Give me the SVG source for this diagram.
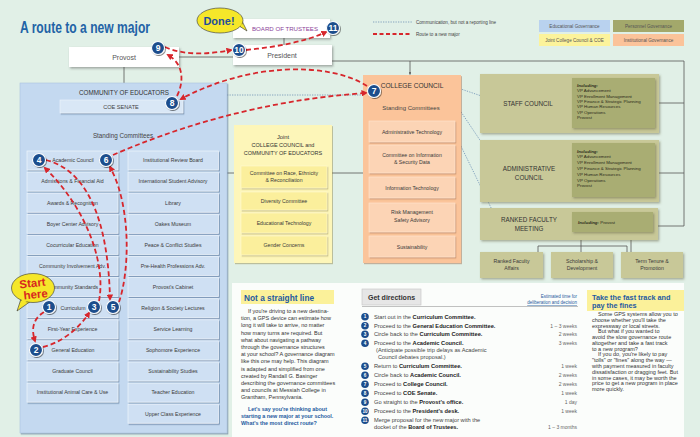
<svg xmlns="http://www.w3.org/2000/svg" width="700" height="437" viewBox="0 0 700 437">
<style>
text{font-family:"Liberation Sans",Arial,sans-serif}
.c{text-anchor:middle}
.ct{font-size:5.2px;fill:#3a3a3a;text-anchor:middle}
.cb{fill:#cfe0f3;stroke:#eef5fc;stroke-width:0.7;filter:url(#sh)}
.jb{fill:#fbef9c;stroke:#fdf8d0;stroke-width:0.6;filter:url(#shy)}
.ob{fill:#fcd4b5;stroke:#fde4d0;stroke-width:0.6;filter:url(#sho)}
.kb{fill:#c8c898;filter:url(#shk)}
.ki{fill:#a9ad73;filter:url(#shk)}
.hd{font-size:6.3px;fill:#333}
.inc{font-size:4.4px;fill:#2b2b1a}
.ln{stroke:#555;stroke-width:0.8;fill:none}
.dot{stroke:#5f84ad;stroke-width:0.7;stroke-dasharray:1.3 1.2;fill:none}
.route{stroke:#d7262c;stroke-width:1.8;stroke-dasharray:5 3;fill:none;marker-end:url(#ra)}
.bd circle{fill:#1b4d8c;stroke:#fff;stroke-width:1.1;filter:url(#shb)}
.bd text{fill:#fff;font-size:8.5px;font-weight:bold;text-anchor:middle}
.sb circle{fill:#1b4d8c}
.sb text{fill:#fff;font-size:4.6px;font-weight:bold;text-anchor:middle}
.st{font-size:5.7px;fill:#444}
.st tspan.b{font-weight:bold;fill:#222}
.tm{font-size:5px;fill:#666;text-anchor:end}
.bt{font-size:5.5px;fill:#333}
.lg{font-size:4.6px;fill:#444}
.lgb{font-size:4.6px;fill:#555;text-anchor:middle}
</style>
<defs>
<filter id="sh" x="-10%" y="-10%" width="130%" height="150%"><feDropShadow dx="1" dy="1.2" stdDeviation="0.7" flood-color="#3d5f86" flood-opacity="0.55"/></filter>
<filter id="shy" x="-10%" y="-10%" width="130%" height="150%"><feDropShadow dx="1" dy="1.2" stdDeviation="0.7" flood-color="#8a8040" flood-opacity="0.45"/></filter>
<filter id="sho" x="-10%" y="-10%" width="130%" height="150%"><feDropShadow dx="1" dy="1.2" stdDeviation="0.7" flood-color="#9a6040" flood-opacity="0.45"/></filter>
<filter id="shk" x="-10%" y="-10%" width="130%" height="150%"><feDropShadow dx="1.2" dy="1.4" stdDeviation="0.8" flood-color="#5f5f40" flood-opacity="0.5"/></filter>
<filter id="shw" x="-10%" y="-10%" width="130%" height="160%"><feDropShadow dx="1.2" dy="1.5" stdDeviation="0.9" flood-color="#444" flood-opacity="0.45"/></filter>
<filter id="shb" x="-40%" y="-40%" width="190%" height="190%"><feDropShadow dx="0.8" dy="1" stdDeviation="0.6" flood-color="#000" flood-opacity="0.5"/></filter>
<marker id="ra" viewBox="0 0 10 10" refX="7" refY="5" markerWidth="3.6" markerHeight="3.6" orient="auto" markerUnits="strokeWidth"><path d="M0,0 L10,5 L0,10 z" fill="#d7262c"/></marker>
<marker id="ba" viewBox="0 0 10 10" refX="9" refY="5" markerWidth="3" markerHeight="3" orient="auto" markerUnits="strokeWidth"><path d="M0,0 L10,5 L0,10 z" fill="#555"/></marker>
</defs>

<rect x="0" y="0" width="700" height="437" fill="#e1f0e7"/>
<rect x="232" y="283" width="452" height="154" fill="#fbfdfb"/>

<g id="title">
<text x="20" y="33" font-size="16.5" font-weight="bold" fill="#2263a6" textLength="130" lengthAdjust="spacingAndGlyphs">A route to a new major</text>
</g>

<g id="legend">
<line x1="373" y1="22" x2="412" y2="22" class="dot"/>
<text x="416" y="23.8" class="lg">Communication, but not a reporting line</text>
<line x1="373" y1="34" x2="412" y2="34" stroke="#d7262c" stroke-width="1.8" stroke-dasharray="4 2.5"/>
<text x="416" y="35.8" class="lg">Route to a new major</text>
<rect x="539" y="20" width="71" height="12" fill="#b9d2ef"/>
<text x="574.5" y="27.6" class="lgb">Educational Governance</text>
<rect x="613" y="20" width="71" height="12" fill="#a3a86b"/>
<text x="648.5" y="27.6" class="lgb" fill="#3f3f25">Personnel Governance</text>
<rect x="539" y="34" width="71" height="12" fill="#fcf39b"/>
<text x="574.5" y="41.6" class="lgb">Joint College Council &amp; COE</text>
<rect x="613" y="34" width="71" height="12" fill="#fbc39a"/>
<text x="648.5" y="41.6" class="lgb">Institutional Governance</text>
</g>

<g id="connectors">
<path class="ln" d="M124 67 V83"/>
<path class="ln" d="M179 57 H233"/>
<path class="ln" d="M284 38 V45"/>
<path class="ln" d="M332 61 H684 V226"/>
<path class="ln" d="M410 61 V74.5" marker-end="url(#ba)"/>
<path class="ln" d="M650 101 V103 H684"/>
<path class="ln" d="M650 171 V173 H684"/>
<path class="ln" d="M651 222 V226 H684"/>
<path class="ln" d="M581 240 V246 M538 246 H627 M538 246 V252 M581 246 V252 M627 246 V252"/>
<path class="ln" d="M636 228 H631 V252"/>
<path class="ln" d="M227 173 H234 M332 173 H363"/>
<path class="dot" d="M227 95 H363"/>
<path class="dot" d="M455 87 L502 103"/>
<path class="dot" d="M447 91 L498 167"/>
<path class="dot" d="M438 99 L497 220"/>
</g>

<g id="board-of-trustees">
<rect x="233" y="19" width="97" height="19" fill="#fff" filter="url(#shw)"/>
<text x="285" y="31" class="c" font-size="6.1" fill="#8b3f99">BOARD OF TRUSTEES</text>
</g>
<g id="provost">
<rect x="69" y="47" width="110" height="20" fill="#fff" filter="url(#shw)"/>
<text x="124" y="59.5" class="c" font-size="7" fill="#555">Provost</text>
</g>
<g id="president">
<rect x="233" y="45" width="99" height="20" fill="#fff" filter="url(#shw)"/>
<text x="282" y="57.5" class="c" font-size="7" fill="#555">President</text>
</g>

<g id="community-of-educators">
<rect x="20" y="83" width="207" height="350" fill="#c4d9f0" stroke="#aac3df" stroke-width="0.6" filter="url(#sh)"/>
<text x="124" y="95" class="c hd" font-size="6.2">COMMUNITY OF EDUCATORS</text>
<text x="123" y="138" class="c" font-size="6.3" fill="#444">Standing Committees</text>
</g>
<g id="coe-senate">
<rect x="60" y="100" width="123" height="13" fill="#d9e7f6" stroke="#eef5fc" stroke-width="0.6" filter="url(#sh)"/>
<text x="121" y="108.8" class="c" font-size="5.6" fill="#444">COE SENATE</text>
</g>

<g id="academic-council"><rect class="cb" x="27" y="151" width="91" height="19"/><text class="ct" x="73" y="162.3">Academic Council</text></g>
<g id="admissions"><rect class="cb" x="27" y="172.1" width="91" height="19"/><text class="ct" x="72.5" y="183.4">Admissions &amp; Financial Aid</text></g>
<g id="awards"><rect class="cb" x="27" y="193.2" width="91" height="19"/><text class="ct" x="72.5" y="204.5">Awards &amp; Recognition</text></g>
<g id="boyer"><rect class="cb" x="27" y="214.3" width="91" height="19"/><text class="ct" x="72.5" y="225.6">Boyer Center Advisory</text></g>
<g id="cocurricular"><rect class="cb" x="27" y="235.4" width="91" height="19"/><text class="ct" x="72.5" y="246.7">Cocurricular Education</text></g>
<g id="community-involvement"><rect class="cb" x="27" y="256.5" width="91" height="19"/><text class="ct" x="72.5" y="267.8">Community Involvement Adv.</text></g>
<g id="community-standards"><rect class="cb" x="27" y="277.6" width="91" height="19"/><text class="ct" x="72.5" y="288.9">Community Standards</text></g>
<g id="curriculum"><rect class="cb" x="27" y="298.7" width="91" height="19"/><text class="ct" x="73" y="310">Curriculum</text></g>
<g id="first-year"><rect class="cb" x="27" y="319.8" width="91" height="19"/><text class="ct" x="72.5" y="331.1">First-Year Experience</text></g>
<g id="general-education"><rect class="cb" x="27" y="340.9" width="91" height="19"/><text class="ct" x="73" y="352.2">General Education</text></g>
<g id="graduate-council"><rect class="cb" x="27" y="362" width="91" height="19"/><text class="ct" x="72.5" y="373.3">Graduate Council</text></g>
<g id="animal-care"><rect class="cb" x="27" y="383.1" width="91" height="19"/><text class="ct" x="72.5" y="394.4">Institutional Animal Care &amp; Use</text></g>

<g id="irb"><rect class="cb" x="128" y="151" width="90.5" height="19"/><text class="ct" x="173" y="162.3">Institutional Review Board</text></g>
<g id="intl-student"><rect class="cb" x="128" y="172.1" width="90.5" height="19"/><text class="ct" x="173" y="183.4">International Student Advisory</text></g>
<g id="library"><rect class="cb" x="128" y="193.2" width="90.5" height="19"/><text class="ct" x="173" y="204.5">Library</text></g>
<g id="oakes"><rect class="cb" x="128" y="214.3" width="90.5" height="19"/><text class="ct" x="173" y="225.6">Oakes Museum</text></g>
<g id="peace"><rect class="cb" x="128" y="235.4" width="90.5" height="19"/><text class="ct" x="173" y="246.7">Peace &amp; Conflict Studies</text></g>
<g id="pre-health"><rect class="cb" x="128" y="256.5" width="90.5" height="19"/><text class="ct" x="173" y="267.8">Pre-Health Professions Adv.</text></g>
<g id="provosts-cabinet"><rect class="cb" x="128" y="277.6" width="90.5" height="19"/><text class="ct" x="173" y="288.9">Provost's Cabinet</text></g>
<g id="religion"><rect class="cb" x="128" y="298.7" width="90.5" height="19"/><text class="ct" x="173" y="310">Religion &amp; Society Lectures</text></g>
<g id="service-learning"><rect class="cb" x="128" y="319.8" width="90.5" height="19"/><text class="ct" x="173" y="331.1">Service Learning</text></g>
<g id="sophomore"><rect class="cb" x="128" y="340.9" width="90.5" height="19"/><text class="ct" x="173" y="352.2">Sophomore Experience</text></g>
<g id="sustainability-studies"><rect class="cb" x="128" y="362" width="90.5" height="19"/><text class="ct" x="173" y="373.3">Sustainability Studies</text></g>
<g id="teacher-education"><rect class="cb" x="128" y="383.1" width="90.5" height="19"/><text class="ct" x="173" y="394.4">Teacher Education</text></g>
<g id="upper-class"><rect class="cb" x="128" y="404.2" width="90.5" height="19"/><text class="ct" x="173" y="415.5">Upper Class Experience</text></g>

<g id="joint">
<rect x="234" y="125" width="98" height="138" fill="#fdf6b9" filter="url(#shy)"/>
<text x="283" y="139" class="c" font-size="5.8" fill="#333">Joint</text>
<text x="283" y="147" class="c" font-size="5.5" fill="#333">COLLEGE COUNCIL and</text>
<text x="283" y="155" class="c" font-size="5.5" fill="#333">COMMUNITY OF EDUCATORS</text>
</g>
<g id="race-ethnicity"><rect class="jb" x="241" y="166" width="86" height="22"/><text class="ct" x="284" y="174.5">Committee on Race, Ethnicity</text><text class="ct" x="284" y="181.5">&amp; Reconciliation</text></g>
<g id="diversity"><rect class="jb" x="241" y="192" width="86" height="18"/><text class="ct" x="284" y="202.8">Diversity Committee</text></g>
<g id="educational-technology"><rect class="jb" x="241" y="213" width="86" height="20"/><text class="ct" x="284" y="224.8">Educational Technology</text></g>
<g id="gender-concerns"><rect class="jb" x="241" y="236" width="86" height="19"/><text class="ct" x="284" y="247.3">Gender Concerns</text></g>

<g id="college-council">
<rect x="363" y="75" width="98" height="188" fill="#fbc49a" filter="url(#sho)"/>
<text x="412" y="88" class="c" font-size="6.6" fill="#333">COLLEGE COUNCIL</text>
<text x="411" y="110" class="c" font-size="6" fill="#444">Standing Committees</text>
</g>
<g id="administrative-technology"><rect class="ob" x="369" y="121" width="86" height="21"/><text class="ct" x="412" y="133.5">Administrative Technology</text></g>
<g id="information-security"><rect class="ob" x="369" y="145" width="86" height="28"/><text class="ct" x="412" y="156.5">Committee on Information</text><text class="ct" x="412" y="163.5">&amp; Security Data</text></g>
<g id="information-technology"><rect class="ob" x="369" y="177" width="86" height="21"/><text class="ct" x="412" y="189.5">Information Technology</text></g>
<g id="risk-management"><rect class="ob" x="369" y="203" width="86" height="29"/><text class="ct" x="412" y="214">Risk Management</text><text class="ct" x="412" y="221.5">Safety Advisory</text></g>
<g id="sustainability"><rect class="ob" x="369" y="236" width="86" height="21"/><text class="ct" x="412" y="248.5">Sustainability</text></g>

<g id="staff-council">
<rect class="kb" x="480" y="74" width="179" height="59"/>
<rect class="ki" x="572" y="78" width="83" height="50"/>
<text x="528" y="106" class="c hd">STAFF COUNCIL</text>
<text class="inc" x="577" y="87"><tspan font-weight="bold" font-style="italic">Including:</tspan></text>
<text class="inc" x="577" y="92.3">VP Advancement</text>
<text class="inc" x="577" y="97.6">VP Enrollment Management</text>
<text class="inc" x="577" y="102.9">VP Finance &amp; Strategic Planning</text>
<text class="inc" x="577" y="108.2">VP Human Resources</text>
<text class="inc" x="577" y="113.5">VP Operations</text>
<text class="inc" x="577" y="118.8">Provost</text>
</g>
<g id="administrative-council">
<rect class="kb" x="480" y="140" width="179" height="62"/>
<rect class="ki" x="572" y="143" width="83" height="54"/>
<text x="529" y="171" class="c hd">ADMINISTRATIVE</text>
<text x="529" y="180" class="c hd">COUNCIL</text>
<text class="inc" x="577" y="152.5"><tspan font-weight="bold" font-style="italic">Including:</tspan></text>
<text class="inc" x="577" y="158.3">VP Advancement</text>
<text class="inc" x="577" y="164.1">VP Enrollment Management</text>
<text class="inc" x="577" y="169.9">VP Finance &amp; Strategic Planning</text>
<text class="inc" x="577" y="175.7">VP Human Resources</text>
<text class="inc" x="577" y="181.5">VP Operations</text>
<text class="inc" x="577" y="187.3">Provost</text>
</g>
<g id="ranked-faculty-meeting">
<rect class="kb" x="480" y="208" width="178" height="32"/>
<rect class="ki" x="572" y="212" width="81" height="20"/>
<text x="529" y="222" class="c hd">RANKED FACULTY</text>
<text x="529" y="230.5" class="c hd">MEETING</text>
<text class="inc" x="578" y="224"><tspan font-weight="bold" font-style="italic">Including:</tspan> Provost</text>
</g>
<g id="ranked-faculty-affairs"><rect class="kb" x="480" y="252" width="63" height="26"/><text class="ct" x="511.5" y="262.5" fill="#333">Ranked Faculty</text><text class="ct" x="511.5" y="269.5" fill="#333">Affairs</text></g>
<g id="scholarship"><rect class="kb" x="551" y="252" width="62" height="26"/><text class="ct" x="582" y="262.5" fill="#333">Scholarship &amp;</text><text class="ct" x="582" y="269.5" fill="#333">Development</text></g>
<g id="term-tenure"><rect class="kb" x="621" y="252" width="62" height="26"/><text class="ct" x="652" y="262.5" fill="#333">Term Tenure &amp;</text><text class="ct" x="652" y="269.5" fill="#333">Promotion</text></g>

<g id="route-connectors">
<path class="route" d="M44 312 C31 320 32 332 35 341"/>
<path class="route" d="M43 347 C60 343 78 330 89 313"/>
<path class="route" d="M99 301 C106 265 88 210 45 168"/>
<path class="route" d="M46 160 C85 170 108 215 110 299"/>
<path class="route" d="M119 302 C130 270 131 205 110 167"/>
<path class="route" d="M113 155 C170 130 260 100 366 93"/>
<path class="route" d="M367 86 C330 62 250 62 181 99"/>
<path class="route" d="M177 96 C184 82 184 64 168 55"/>
<path class="route" d="M165 47 C185 56 210 54 231 50"/>
<path class="route" d="M246 50 C275 47 305 42 326 32"/>
</g>

<g id="start-here">
<path d="M22 296 L17 311 L31 301 Z" fill="#f5e72a" stroke="#333" stroke-width="0.6"/>
<ellipse cx="33" cy="288" rx="21.5" ry="14.5" fill="#f5e72a" stroke="#333" stroke-width="0.6"/>
<path d="M23 298 L20 305 L29 300 Z" fill="#f5e72a"/>
<g transform="rotate(-6 33 288)">
<text x="33" y="287" class="c" font-size="11.5" font-weight="bold" fill="#d8281f">Start</text>
<text x="35" y="298.5" class="c" font-size="11.5" font-weight="bold" fill="#d8281f">here</text>
</g>
</g>
<g id="done">
<path d="M236 24 L247 31 L241 19 Z" fill="#f5e72a" stroke="#333" stroke-width="0.6"/>
<ellipse cx="220" cy="20.5" rx="23" ry="12.5" fill="#f5e72a" stroke="#333" stroke-width="0.6"/>
<path d="M235 22 L243 27 L239 19 Z" fill="#f5e72a"/>
<text x="219" y="25" class="c" font-size="11" font-weight="bold" fill="#1f4f99">Done!</text>
</g>

<g id="badges" class="bd">
<g id="badge-1"><circle cx="49" cy="307" r="6.5"/><text x="49" y="310">1</text></g>
<g id="badge-2"><circle cx="36" cy="350" r="6.5"/><text x="36" y="353">2</text></g>
<g id="badge-3"><circle cx="94" cy="307" r="6.5"/><text x="94" y="310">3</text></g>
<g id="badge-4"><circle cx="39" cy="160" r="6.5"/><text x="39" y="163">4</text></g>
<g id="badge-5"><circle cx="113" cy="307" r="6.5"/><text x="113" y="310">5</text></g>
<g id="badge-6"><circle cx="106" cy="160" r="6.5"/><text x="106" y="163">6</text></g>
<g id="badge-7"><circle cx="374" cy="91" r="6.5"/><text x="374" y="94">7</text></g>
<g id="badge-8"><circle cx="172" cy="103" r="6.5"/><text x="172" y="106">8</text></g>
<g id="badge-9"><circle cx="158" cy="48" r="6.5"/><text x="158" y="51">9</text></g>
<g id="badge-10"><circle cx="239" cy="50" r="6.5"/><text x="239" y="52.8" font-size="7.5">10</text></g>
<g id="badge-11"><circle cx="333" cy="28" r="6.5"/><text x="333" y="30.8" font-size="7.5">11</text></g>
</g>

<g id="not-a-straight-line">
<rect x="241" y="290" width="93" height="14" fill="#fbf19a"/>
<text x="244" y="300.5" font-size="8.3" font-weight="bold" fill="#1e5aa0">Not a straight line</text>
<text class="bt" x="248" y="313">If you're driving to a new destina-</text>
<text class="bt" x="241" y="320.2">tion, a GPS device can estimate how</text>
<text class="bt" x="241" y="327.4">long it will take to arrive, no matter</text>
<text class="bt" x="241" y="334.6">how many turns are required. But</text>
<text class="bt" x="241" y="341.8">what about navigating a pathway</text>
<text class="bt" x="241" y="349">through the governance structures</text>
<text class="bt" x="241" y="356.2">at your school? A governance diagram</text>
<text class="bt" x="241" y="363.4">like this one may help. This diagram</text>
<text class="bt" x="241" y="370.6">is adapted and simplified from one</text>
<text class="bt" x="241" y="377.8">created by Randall G. Basinger</text>
<text class="bt" x="241" y="385">describing the governance committees</text>
<text class="bt" x="241" y="392.2">and councils at Messiah College in</text>
<text class="bt" x="241" y="399.4">Grantham, Pennsylvania.</text>
<text x="248" y="411" font-size="5.4" font-weight="bold" fill="#1e5aa0">Let's say you're thinking about</text>
<text x="241" y="418" font-size="5.4" font-weight="bold" fill="#1e5aa0">starting a new major at your school.</text>
<text x="241" y="425" font-size="5.4" font-weight="bold" fill="#1e5aa0">What's the most direct route?</text>
</g>

<g id="get-directions">
<rect x="362" y="289" width="59" height="16" fill="#e6e6e6" stroke="#c4c4c4" stroke-width="0.6"/>
<text x="368" y="300" font-size="7" font-weight="bold" fill="#333">Get directions</text>
<text x="577" y="298" font-size="4.5" fill="#1e5aa0" text-anchor="end">Estimated time for</text>
<text x="577" y="304" font-size="4.5" fill="#1e5aa0" text-anchor="end" text-decoration="underline">deliberation and decision</text>
<line x1="362" y1="306.5" x2="578" y2="306.5" stroke="#999" stroke-width="0.6"/>
<g class="sb">
<circle cx="365" cy="316.7" r="3.8"/><text x="365" y="318.3">1</text>
<circle cx="365" cy="325.7" r="3.8"/><text x="365" y="327.3">2</text>
<circle cx="365" cy="334.2" r="3.8"/><text x="365" y="335.8">3</text>
<circle cx="365" cy="343.2" r="3.8"/><text x="365" y="344.8">4</text>
<circle cx="365" cy="366.2" r="3.8"/><text x="365" y="367.8">5</text>
<circle cx="365" cy="375.2" r="3.8"/><text x="365" y="376.8">6</text>
<circle cx="365" cy="384.2" r="3.8"/><text x="365" y="385.8">7</text>
<circle cx="365" cy="393.2" r="3.8"/><text x="365" y="394.8">8</text>
<circle cx="365" cy="402.2" r="3.8"/><text x="365" y="403.8">9</text>
<circle cx="365" cy="411.2" r="3.8"/><text x="365" y="412.8" font-size="4">10</text>
<circle cx="365" cy="420.2" r="3.8"/><text x="365" y="421.8" font-size="4">11</text>
</g>
<text class="st" x="374" y="318.5">Start out in the <tspan class="b">Curriculum Committee.</tspan></text>
<text class="st" x="374" y="327.5">Proceed to the <tspan class="b">General Education Committee.</tspan></text>
<text class="st" x="374" y="336">Circle back to the <tspan class="b">Curriculum Committee.</tspan></text>
<text class="st" x="374" y="345">Proceed to the <tspan class="b">Academic Council.</tspan></text>
<text class="st" x="376" y="352">(Anticipate possible trip delays as Academic</text>
<text class="st" x="378" y="359">Council debates proposal.)</text>
<text class="st" x="374" y="368">Return to <tspan class="b">Curriculum Committee.</tspan></text>
<text class="st" x="374" y="377">Circle back to <tspan class="b">Academic Council.</tspan></text>
<text class="st" x="374" y="386">Proceed to <tspan class="b">College Council.</tspan></text>
<text class="st" x="374" y="395">Proceed to <tspan class="b">COE Senate.</tspan></text>
<text class="st" x="374" y="404">Go straight to the <tspan class="b">Provost's office.</tspan></text>
<text class="st" x="374" y="413">Proceed to the <tspan class="b">President's desk.</tspan></text>
<text class="st" x="374" y="422">Merge proposal for the new major with the</text>
<text class="st" x="374" y="429">docket of the <tspan class="b">Board of Trustees.</tspan></text>
<text class="tm" x="577" y="327.5">1 – 3 weeks</text>
<text class="tm" x="577" y="336">2 weeks</text>
<text class="tm" x="577" y="345">3 weeks</text>
<text class="tm" x="577" y="368">1 week</text>
<text class="tm" x="577" y="377">2 weeks</text>
<text class="tm" x="577" y="386">2 weeks</text>
<text class="tm" x="577" y="395">1 week</text>
<text class="tm" x="577" y="404">1 day</text>
<text class="tm" x="577" y="413">1 week</text>
<text class="tm" x="577" y="429">1 – 3 months</text>
</g>

<g id="fast-track">
<rect x="587" y="290" width="97" height="21" fill="#fbf19a"/>
<text x="592" y="299.5" font-size="7.3" font-weight="bold" fill="#1e5aa0">Take the fast track and</text>
<text x="592" y="308.3" font-size="7.3" font-weight="bold" fill="#1e5aa0">pay the fines</text>
<text class="bt" x="598" y="316">Some GPS systems allow you to</text>
<text class="bt" x="592" y="321.8">choose whether you'll take the</text>
<text class="bt" x="592" y="327.5">expressway or local streets.</text>
<text class="bt" x="598" y="333.3">But what if you wanted to</text>
<text class="bt" x="592" y="339">avoid the slow governance route</text>
<text class="bt" x="592" y="344.8">altogether and take a fast track</text>
<text class="bt" x="592" y="350.6">to a new program?</text>
<text class="bt" x="598" y="356.4">If you do, you're likely to pay</text>
<text class="bt" x="592" y="362.2">"tolls" or "fines" along the way —</text>
<text class="bt" x="592" y="368">with payment measured in faculty</text>
<text class="bt" x="592" y="373.7">dissatisfaction or dragging feet. But</text>
<text class="bt" x="592" y="379.5">in some cases, it may be worth the</text>
<text class="bt" x="592" y="385.2">price to get a new program in place</text>
<text class="bt" x="592" y="391">more quickly.</text>
</g>
</svg>
